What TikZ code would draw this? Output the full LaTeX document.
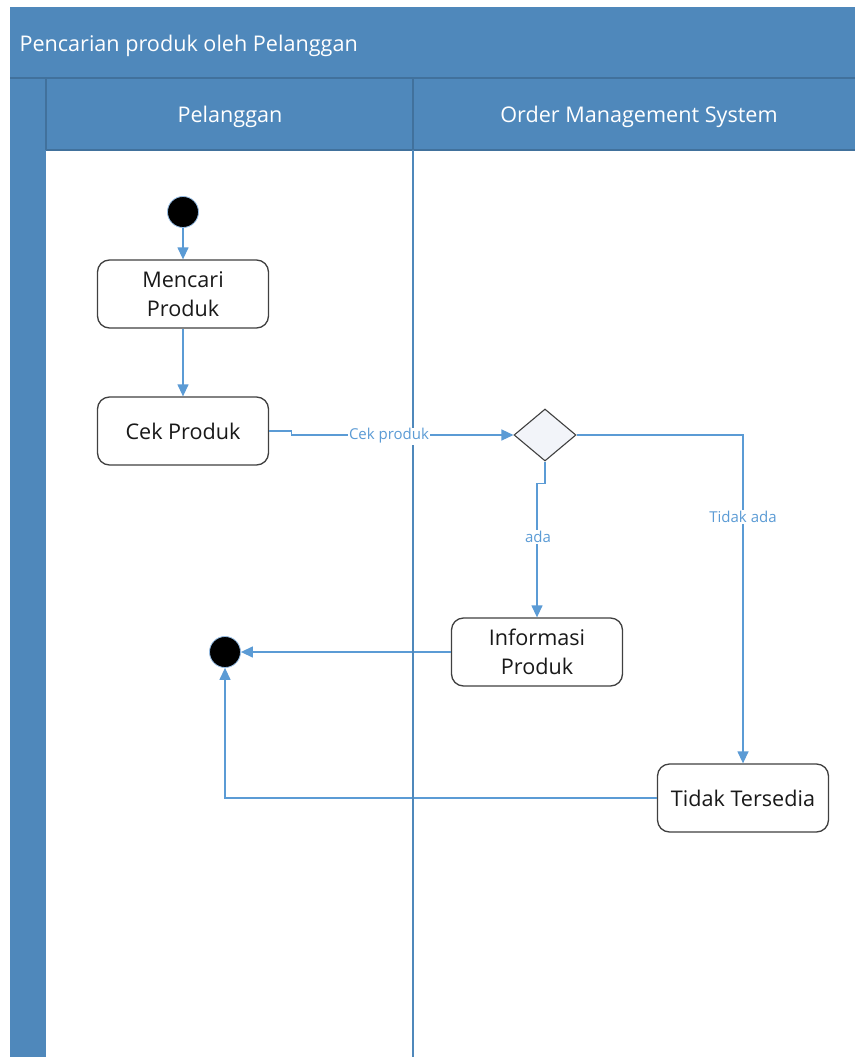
\documentclass[tikz,border=0pt]{standalone}
\usepackage{fontspec}
\setmainfont{Open Sans}
\usetikzlibrary{arrows.meta,shapes.geometric}

\definecolor{lanefill}{RGB}{79,136,187}
\definecolor{laneline}{RGB}{65,113,156}
\definecolor{flowcol}{RGB}{91,155,213}
\definecolor{boxline}{RGB}{64,64,64}
\definecolor{decfill}{RGB}{242,244,249}
\definecolor{glow}{RGB}{150,190,230}

\tikzset{
  header/.style={text=white, font=\fontsize{21.6}{26}\selectfont},
  activity/.style={draw=boxline, line width=1.3pt, rounded corners=12pt, fill=white,
    minimum width=171pt, minimum height=68pt, align=center,
    font=\fontsize{21.6}{29}\selectfont, text=black!90},
  decision/.style={diamond, draw=boxline, line width=1.1pt, fill=decfill,
    minimum width=62pt, minimum height=52pt, inner sep=0pt},
  terminal/.style={circle, fill=black, draw=glow, line width=0.8pt,
    minimum size=31pt, inner sep=0pt},
  flow/.style={draw=flowcol, line width=1.3pt,
    -{Triangle[length=12pt,width=11pt]}},
  flowlabel/.style={fill=white, text=flowcol, inner sep=1pt,
    font=\fontsize{15}{17}\selectfont},
}

\begin{document}
\begin{tikzpicture}[x=1pt,y=-1pt]
\useasboundingbox (0,0) rectangle (855,1057);

% swimlane frame
\fill[lanefill] (10,7) rectangle (855,1057);
\fill[white] (46,150) rectangle (855,1057);
\draw[laneline, line width=1.2pt] (10,78) -- (855,78);
\draw[laneline, line width=1.2pt] (46,78) -- (46,150);
\draw[laneline, line width=1.2pt] (46,150) -- (855,150);
\draw[laneline, line width=1.2pt] (413,78) -- (413,150);

\node[header, anchor=west] (title) at (16,46) {Pencarian produk oleh Pelanggan};
\node[header] (lane1) at (230,117) {Pelanggan};
\node[header] (lane2) at (639,117) {Order Management System};

% activity nodes
\node[terminal] (start) at (183,212) {};
\node[activity] (cari) at (183,294) {Mencari\\Produk};
\node[activity] (cek) at (183,431) {Cek Produk};
\node[decision] (dec) at (545,435) {};
\node[activity] (info) at (537,652) {Informasi\\Produk};
\node[activity] (tidak) at (743,798) {Tidak Tersedia};
\node[terminal] (final) at (225,652) {};

% control flows
\draw[flow] (start) -- (cari);
\draw[flow] (cari) -- (cek);
\draw[flow] (cek.east) -- ++(22,0) |- (dec.west);
\draw[flow] (dec.south) -- ++(0,22) -| (info.north);
\draw[flow] (dec.east) -| (tidak.north);
\draw[flow] (info.west) -- (final.east);
\draw[flow] (tidak.west) -| (final.south);

% lane divider
\draw[lanefill, line width=2.2pt] (413,150) -- (413,1057);

% guard labels
\node[flowlabel] (l1) at (389,436) {Cek produk};
\node[flowlabel] (l2) at (538,537) {ada};
\node[flowlabel] (l3) at (743,517) {Tidak ada};
\end{tikzpicture}
\end{document}
